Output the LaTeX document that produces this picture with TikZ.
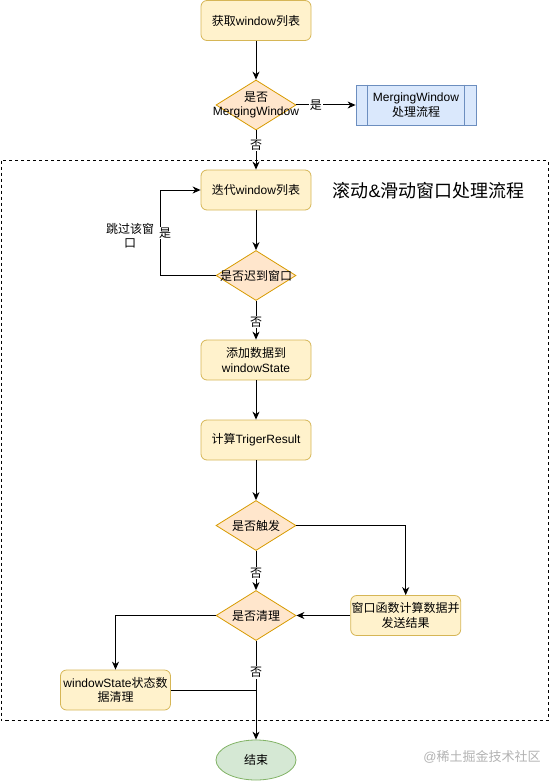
\documentclass[tikz,border=0pt]{standalone}
\usepackage{fontspec}
\setmainfont{Noto Sans CJK SC}
\newfontfamily\lat{Liberation Sans}
\usetikzlibrary{shapes.geometric,arrows.meta}
\definecolor{boxfill}{HTML}{FFF2CC}
\definecolor{boxdraw}{HTML}{D6B656}
\definecolor{decfill}{HTML}{FFE6CC}
\definecolor{decdraw}{HTML}{D79B00}
\definecolor{blfill}{HTML}{DAE8FC}
\definecolor{bldraw}{HTML}{6C8EBF}
\definecolor{grfill}{HTML}{D5E8D4}
\definecolor{grdraw}{HTML}{82B366}
\newcommand{\W}[1]{{\lat #1}}
\begin{document}
\begin{tikzpicture}[x=1pt,y=-1pt,
  font=\fontsize{12}{14.5}\selectfont,
  proc/.style={rectangle, rounded corners=6pt, draw=boxdraw, fill=boxfill, line width=0.8pt,
    minimum width=110pt, minimum height=40pt, align=center, inner sep=0pt},
  dec/.style={diamond, draw=decdraw, fill=decfill, line width=0.8pt,
    minimum width=80pt, minimum height=50pt, inner sep=0pt},
  lbl/.style={fill=white, inner sep=1pt},
  arr/.style={line width=1pt, -{Stealth[length=8pt,width=7pt,inset=2.5pt]}},
  ln/.style={line width=1pt}]
\useasboundingbox (0,0) rectangle (551,781);
% container
\draw[line width=0.9pt, dash pattern=on 3pt off 3pt] (1,160.5) rectangle (548,720);
\node[anchor=west, font=\fontsize{18}{20}\selectfont] (title) at (329,191) {滚动\W{\&}滑动窗口处理流程};
% nodes
\node[proc] (b1) at (256,20.5) {获取\W{window}列表};
\node[dec, label={[align=center]center:是否\\\W{MergingWindow}}] (d1) at (256,105) {};
\node[rectangle, draw=bldraw, fill=blfill, line width=0.8pt, minimum width=120pt, minimum height=40pt,
  inner sep=0pt, align=center] (mw) at (416,105) {\W{MergingWindow}\\处理流程};
\draw[bldraw, line width=0.8pt] ([xshift=12pt]mw.north west) -- ([xshift=12pt]mw.south west);
\draw[bldraw, line width=0.8pt] ([xshift=-12pt]mw.north east) -- ([xshift=-12pt]mw.south east);
\node[proc] (b2) at (256,190) {迭代\W{window}列表};
\node[dec, label={center:是否迟到窗口}] (d2) at (256,275.5) {};
\node[align=center] (skip) at (130,236) {跳过该窗\\口};
\node[proc] (b3) at (256,360) {添加数据到\\\W{windowState}};
\node[proc] (b4) at (256,440) {计算\W{TrigerResult}};
\node[dec, label={center:是否触发}] (d3) at (256,525.5) {};
\node[dec, label={center:是否清理}] (d4) at (256,615.5) {};
\node[proc] (b5) at (405.7,615.5) {窗口函数计算数据并\\发送结果};
\node[proc] (b6) at (115.5,690) {\W{windowState}状态数\\据清理};
\node[ellipse, draw=grdraw, fill=grfill, line width=0.8pt, minimum width=80pt, minimum height=40pt,
  inner sep=0pt] (end) at (256,760) {结束};
\node[text=black!30, font=\fontsize{13}{15}\selectfont] (wm) at (482,757) {\W{@}稀土掘金技术社区};
% connectors
\draw[arr] (b1) -- (d1);
\draw[arr] (d1) -- node[lbl, pos=0.33] {是} (mw);
\draw[arr] (d1) -- node[lbl, pos=0.375] {否} (b2);
\draw[arr] (b2) -- (d2);
\coordinate (lp1) at (160,275.5);
\coordinate (lp2) at (160,190);
\draw[arr] (d2.west) -- (lp1) -- (lp2) -- (b2.west);
\node[lbl] (yes2) at (165,233) {是};
\draw[arr] (d2) -- node[lbl, pos=0.55] {否} (b3);
\draw[arr] (b3) -- (b4);
\draw[arr] (b4) -- (d3);
\draw[arr] (d3.east) -| (b5.north);
\draw[arr] (d3) -- node[lbl, pos=0.56] {否} (d4);
\draw[arr] (b5.west) -- (d4.east);
\draw[arr] (d4.west) -| (b6.north);
\draw[arr] (d4.south) -- node[lbl, pos=0.32] {否} (end.north);
\coordinate (jn) at (b6.east -| end.north);
\draw[ln] (b6.east) -- (jn);
\end{tikzpicture}
\end{document}
